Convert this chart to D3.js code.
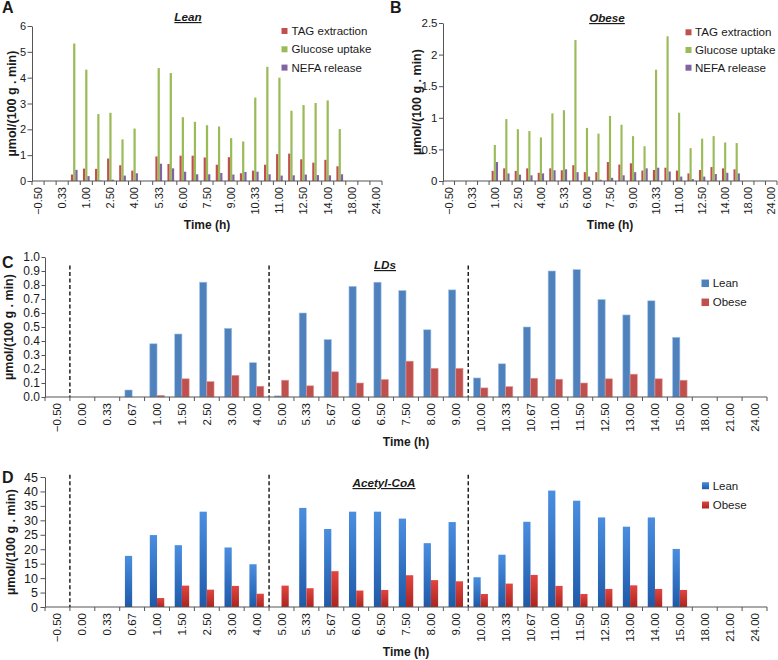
<!DOCTYPE html>
<html><head><meta charset="utf-8">
<script src="https://cdn.jsdelivr.net/npm/d3@7"></script>
<style>body{margin:0;background:#fff;} text{font-family:"Liberation Sans",Arial,Helvetica,sans-serif;fill:#1a1a1a;}</style>
</head><body><svg id="c" width="778" height="660"></svg>
<script>
const N = null;
const times = ["\u22120.50","0.00","0.33","0.67","1.00","1.50","2.50","3.00","4.00","5.00","5.33","5.67","6.00","6.50","7.50","8.00","9.00","10.00","10.33","10.67","11.00","11.50","12.50","13.00","14.00","15.00","18.00","21.00","24.00"];

// Panel A - Lean
const leanTAG      = [N,N,N,0.25,0.48,0.47,0.87,0.61,0.40,N,0.95,0.66,0.98,0.98,0.91,0.63,0.92,0.30,0.40,0.63,1.04,1.06,0.84,0.71,0.82,0.57,N,N,N];
const leanGlucose  = [N,N,N,5.32,4.31,2.59,2.64,1.61,2.03,N,4.37,4.18,2.47,2.29,2.16,2.11,1.66,1.53,3.23,4.42,4.00,2.72,2.94,3.02,3.12,2.01,N,N,N];
const leanNEFA     = [N,N,N,0.43,0.19,0.02,0.05,0.21,0.30,N,0.67,0.49,0.36,0.26,0.26,0.31,0.25,0.35,0.36,0.26,0.21,0.22,0.25,0.23,0.22,0.26,N,N,N];
// Panel B - Obese
const obeseTAG     = [N,N,N,N,0.16,0.20,0.16,0.20,0.13,0.20,0.17,0.25,0.14,0.14,0.30,0.26,0.28,0.165,0.175,0.21,0.165,0.12,0.175,0.22,0.20,0.185,N,N,N];
const obeseGlucose = [N,N,N,N,0.57,0.98,0.82,0.79,0.69,1.07,1.12,2.23,0.84,0.75,1.03,0.89,0.71,0.55,1.76,2.29,1.08,0.52,0.67,0.71,0.61,0.60,N,N,N];
const obeseNEFA    = [N,N,N,N,0.30,0.12,0.10,0.09,0.12,0.17,0.185,0.14,0.07,0.02,0.05,0.09,0.14,0.20,0.21,0.15,0.07,0.03,0.07,0.11,0.13,0.12,N,N,N];
// Panel C - LDs
const ldsLean      = [N,N,N,0.05,0.38,0.45,0.82,0.49,0.245,0.008,0.60,0.41,0.79,0.82,0.76,0.48,0.765,0.136,0.237,0.50,0.90,0.91,0.696,0.586,0.687,0.426,N,N,N];
const ldsObese     = [N,N,N,N,0.012,0.13,0.11,0.155,0.077,0.12,0.08,0.18,0.10,0.125,0.256,0.205,0.205,0.065,0.074,0.134,0.127,0.10,0.13,0.163,0.13,0.12,N,N,N];
// Panel D - Acetyl-CoA
const acLean       = [N,N,N,17.7,24.9,21.4,33.0,20.6,14.8,N,34.3,27.0,33.0,33.0,30.6,22.1,29.4,10.3,18.1,29.5,40.3,36.8,31.0,27.8,31.0,20.1,N,N,N];
const acObese      = [N,N,N,N,3.1,7.4,6.0,7.3,4.6,7.4,6.5,12.4,5.7,5.9,11.0,9.3,8.9,4.5,8.1,11.1,7.3,4.5,6.25,7.5,6.25,5.9,N,N,N];

const ticksA = [0,1,2,3,4,5,6];
const ticksB = [0,0.5,1,1.5,2,2.5];
const ticksC = d3.range(0,11).map(d=>d/10);
const ticksD = d3.range(0,50,5);
const dividerCats = ["0.00","5.00","10.00"];

const svg = d3.select("#c");
const defs = svg.append("defs");
function grad(id, top, bot){
  const g = defs.append("linearGradient").attr("id",id).attr("x1",0).attr("y1",0).attr("x2",0).attr("y2",1);
  g.append("stop").attr("offset","0%").attr("stop-color",top);
  g.append("stop").attr("offset","100%").attr("stop-color",bot);
}
grad("gBlue","#4a8ee0","#1f5aa8");
grad("gRed","#e2453f","#ab2520");

const AX = "#555";
const yTitle = "\u00b5mol/(100 g . min)";

function panel(o){
  const x = d3.scaleBand().domain(d3.range(times.length)).range([o.x0,o.x1]).padding(0);
  const y = d3.scaleLinear().domain(o.domain).range([o.yBot,o.yTop]);
  const g = svg.append("g");
  const bw = x.bandwidth();
  if(o.dividers){
    o.dividers.forEach(c=>{
      const xi = x(times.indexOf(c));
      g.append("line").attr("x1",xi).attr("x2",xi).attr("y1",y(o.divTop)).attr("y2",o.yBot)
        .attr("stroke","#111").attr("stroke-width",1.4).attr("stroke-dasharray","4,2.5");
    });
  }
  const n = o.series.length;
  o.series.forEach((s,si)=>{
    const data = s.values.map((v,i)=>({v,i})).filter(d=>d.v!==null);
    g.append("g").selectAll("rect").data(data).join("rect")
      .attr("x",d=>x(d.i)+bw*(0.5 - n*o.f/2 + si*o.f))
      .attr("width",bw*o.f)
      .attr("y",d=>y(d.v))
      .attr("height",d=>o.yBot-y(d.v))
      .attr("fill",s.fill)
      .attr("stroke",s.stroke||"none").attr("stroke-width",0.6);
  });
  const ya = g.append("g").attr("transform",`translate(${o.x0},0)`)
    .call(d3.axisLeft(y).tickValues(o.ticks).tickFormat(o.fmt).tickSize(o.tickSize).tickSizeOuter(0).tickPadding(o.tickPad));
  ya.select(".domain").attr("stroke",AX);
  ya.selectAll(".tick line").attr("stroke",AX);
  ya.selectAll(".tick text").attr("font-size",o.yFont).attr("font-family",null).style("fill","#1a1a1a");
  g.append("line").attr("x1",o.x0).attr("x2",o.x1).attr("y1",o.yBot).attr("y2",o.yBot).attr("stroke",AX);
  g.append("g").selectAll("line").data(d3.range(times.length+1)).join("line")
    .attr("x1",i=>o.x0+i*x.step()).attr("x2",i=>o.x0+i*x.step())
    .attr("y1",o.yBot).attr("y2",o.yBot+4).attr("stroke",AX);
  g.append("g").selectAll("text").data(times.map((t,i)=>({t,i})).filter(d=>d.i%o.every===0)).join("text")
    .attr("transform",d=>`translate(${x(d.i)+bw/2},${o.yBot+6}) rotate(-90)`)
    .attr("text-anchor","end").attr("dy","0.35em").attr("font-size",o.xFont).text(d=>d.t);
  g.append("text").attr("x",(o.x0+o.x1)/2).attr("y",o.xTitleY).attr("text-anchor","middle")
    .attr("font-weight","bold").attr("font-size",12).text("Time (h)");
  g.append("text").attr("transform",`translate(${o.yTitleX},${(o.yTop+o.yBot)/2}) rotate(-90)`)
    .attr("text-anchor","middle").attr("font-weight","bold").attr("font-size",12.5).text(yTitle);
  svg.append("text").attr("x",o.letter[1]).attr("y",o.letter[2]).attr("font-weight","bold")
    .attr("font-size",16).text(o.letter[0]);
  svg.append("text").attr("x",o.title[1]).attr("y",o.title[2]).attr("text-anchor","middle")
    .attr("font-weight","bold").attr("font-style","italic").attr("font-size",11.7)
    .attr("text-decoration","underline").text(o.title[0]);
  const L = o.legend; // [sqX, firstRowY, rowStep, sqSize, textX, fontSize]
  o.series.forEach((s,si)=>{
    const ly = L[1] + si*L[2];
    svg.append("rect").attr("x",L[0]).attr("y",ly-L[3]/2).attr("width",L[3]).attr("height",L[3]).attr("fill",s.fill);
    svg.append("text").attr("x",L[4]).attr("y",ly).attr("dy","0.35em").attr("font-size",L[5]).text(s.name);
  });
}

panel({x0:32,x1:382,yTop:26,yBot:181,domain:[0,6],ticks:ticksA,fmt:d3.format("d"),yFont:11,tickSize:4.5,tickPad:1.5,xFont:11,every:2,f:0.185,
  xTitleY:229,yTitleX:16,letter:["A",2,13],title:["Lean",188,21],legend:[281.5,31,18.3,6,291.5,11.5],
  series:[{name:"TAG extraction",values:leanTAG,fill:"#c0504d"},{name:"Glucose uptake",values:leanGlucose,fill:"#9bbb59"},{name:"NEFA release",values:leanNEFA,fill:"#8064a2"}]});

panel({x0:443,x1:777,yTop:23,yBot:181,domain:[0,2.5],ticks:ticksB,fmt:d=>d3.format("")(d),yFont:11.5,tickSize:4,tickPad:1.5,xFont:11,every:2,f:0.185,
  xTitleY:229,yTitleX:421,letter:["B",390,13],title:["Obese",607,22],legend:[685.5,32.3,17.7,6,695,11.6],
  series:[{name:"TAG extraction",values:obeseTAG,fill:"#c0504d"},{name:"Glucose uptake",values:obeseGlucose,fill:"#9bbb59"},{name:"NEFA release",values:obeseNEFA,fill:"#8064a2"}]});

panel({x0:45,x1:767,yTop:257,yBot:397,domain:[0,1],ticks:ticksC,fmt:d3.format(".1f"),yFont:12,tickSize:3.5,tickPad:1.5,xFont:11.5,every:1,f:0.29,
  xTitleY:446,yTitleX:13,letter:["C",2,268],title:["LDs",385,269],legend:[701.5,283.3,19,7.5,712.7,11.5],dividers:dividerCats,divTop:0.94,
  series:[{name:"Lean",values:ldsLean,fill:"#4f81bd",stroke:"#9ec0e8"},{name:"Obese",values:ldsObese,fill:"#c0504d",stroke:"#e09a98"}]});

panel({x0:45,x1:767,yTop:477,yBot:607,domain:[0,45],ticks:ticksD,fmt:d3.format("d"),yFont:12.5,tickSize:4.5,tickPad:2.5,xFont:11.5,every:1,f:0.29,
  xTitleY:656,yTitleX:15,letter:["D",2,483],title:["Acetyl-CoA",384,487],legend:[702,485.7,19.3,7,712.7,11.5],dividers:dividerCats,divTop:45.8,
  series:[{name:"Lean",values:acLean,fill:"url(#gBlue)"},{name:"Obese",values:acObese,fill:"url(#gRed)"}]});
</script></body></html>
